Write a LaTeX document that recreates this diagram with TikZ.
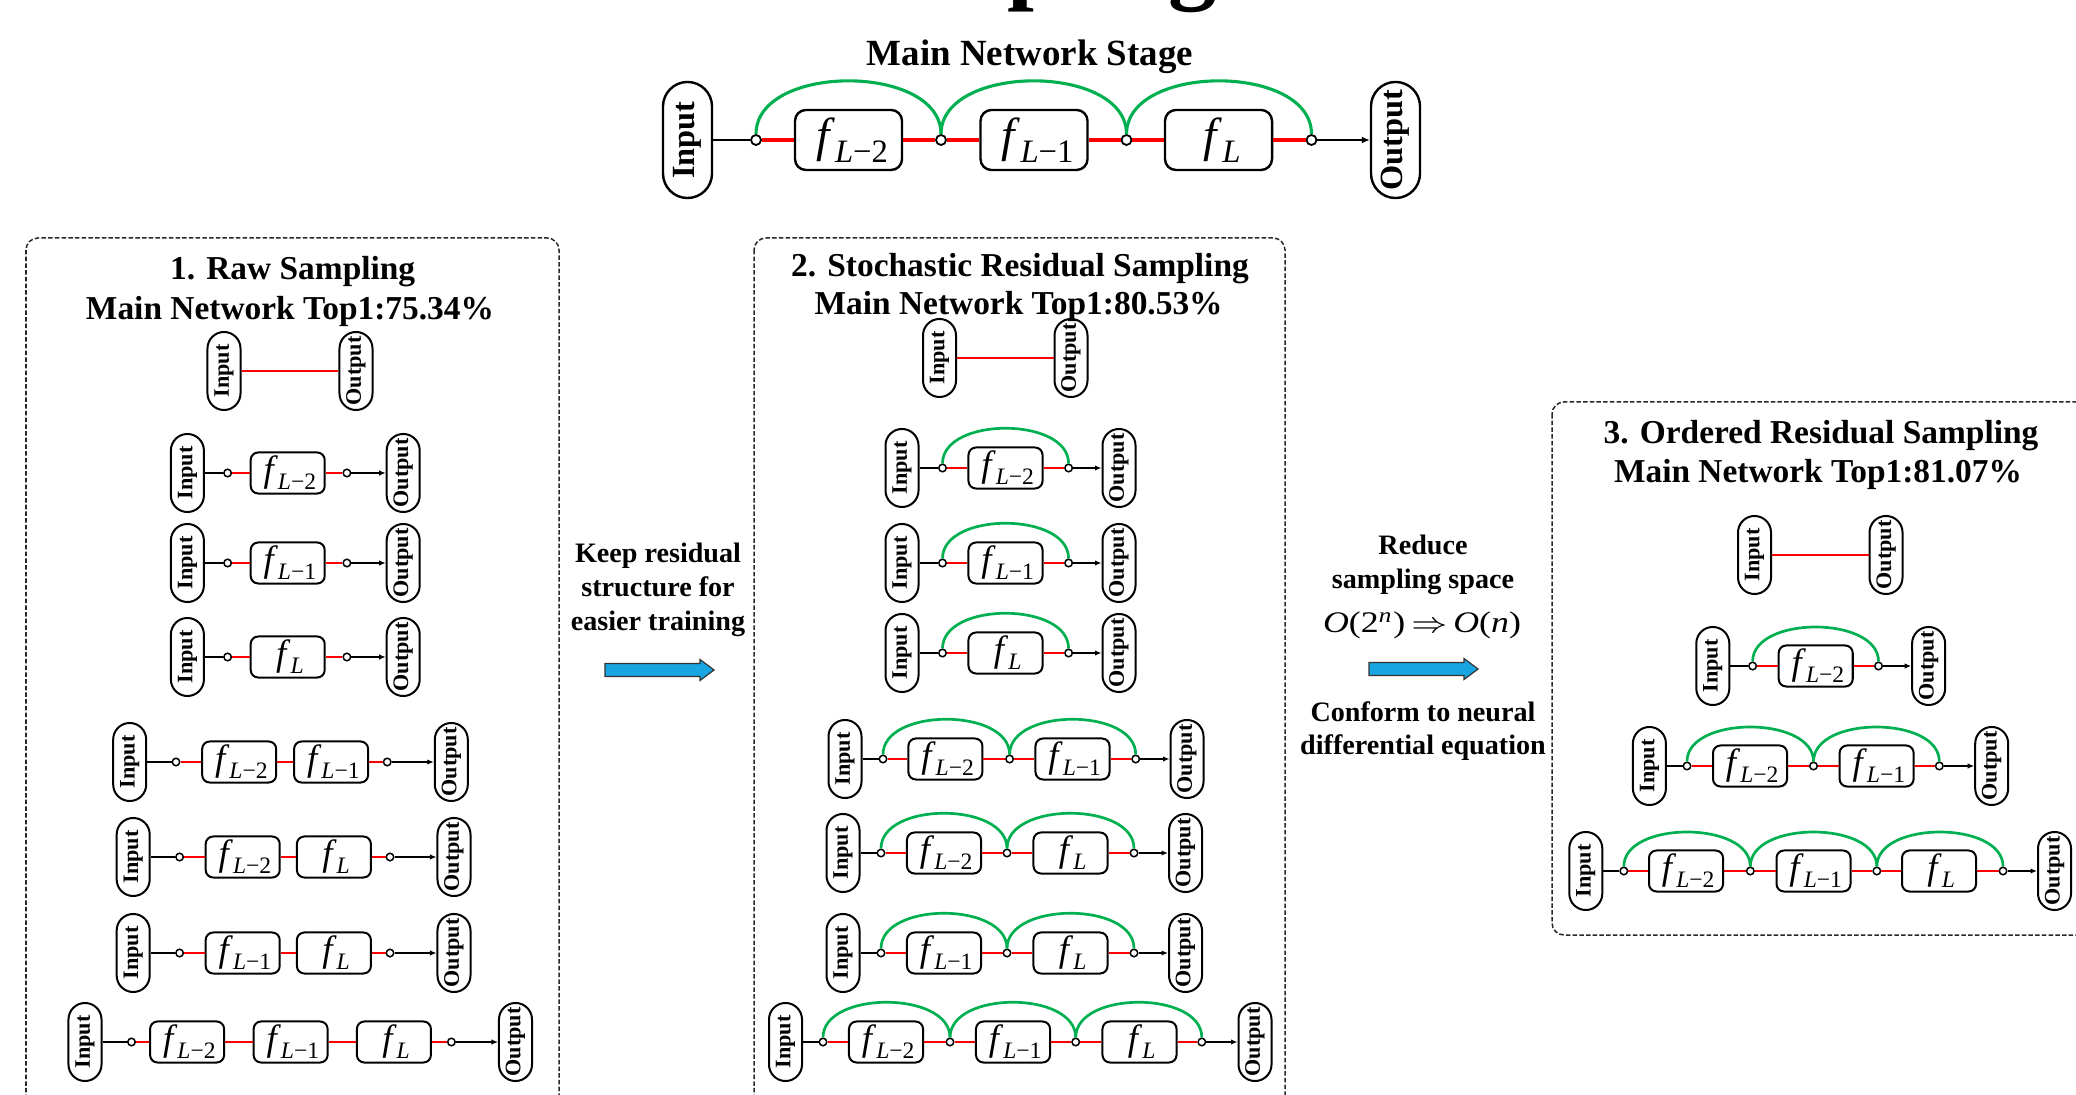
\documentclass[tikz,border=0pt]{standalone}
\usepackage{fontspec}
\usepackage{graphicx}
\setmainfont{Liberation Serif}
\usetikzlibrary{arrows.meta}

\definecolor{resred}{RGB}{255,0,0}
\definecolor{resgreen}{RGB}{0,176,80}
\definecolor{flowblue}{RGB}{24,165,225}
\definecolor{framegray}{RGB}{40,40,40}

% block labels f_{L-k}, small and large
\newcommand\fsmall[1]{\kern0.12em\textit{f}\raisebox{-0.22em}{\fontsize{6.7}{6.7}\selectfont\textit{L}#1}}
\newcommand\fbig[1]{\kern0.15em\textit{f}\raisebox{-0.22em}{\fontsize{9.3}{9.3}\selectfont\textit{L}#1}}
\newcommand\vtext[1]{\rotatebox{90}{#1}}

\begin{document}
\begin{tikzpicture}[x=0.01cm, y=-0.01cm,
  pill/.style={draw, line width=0.02cm, rounded corners=0.165cm,
    minimum width=0.33cm, minimum height=0.78cm, inner sep=0pt,
    font=\fontsize{6.3}{6.3}\selectfont\bfseries},
  bigpill/.style={pill, line width=0.024cm, rounded corners=0.245cm,
    minimum width=0.49cm, minimum height=1.16cm,
    font=\fontsize{9.2}{9.2}\selectfont\bfseries},
  fbox/.style={draw, line width=0.02cm, rounded corners=0.075cm,
    minimum width=0.74cm, minimum height=0.41cm, inner sep=0pt,
    font=\fontsize{10.4}{10.4}\selectfont},
  bigfbox/.style={fbox, line width=0.024cm, rounded corners=0.11cm,
    minimum width=1.07cm, minimum height=0.60cm,
    font=\fontsize{13.6}{13.6}\selectfont},
  dot/.style={circle, draw, fill=white, line width=0.015cm,
    minimum size=0.075cm, inner sep=0pt},
  bigdot/.style={dot, line width=0.018cm, minimum size=0.10cm},
  blk/.style={draw=black, line width=0.02cm},
  blkarr/.style={blk, -{Latex[length=0.065cm,width=0.055cm]}},
  rd/.style={draw=resred, line width=0.027cm},
  grn/.style={draw=resgreen, line width=0.027cm},
  bigblk/.style={draw=black, line width=0.025cm},
  bigblkarr/.style={bigblk, -{Latex[length=0.08cm,width=0.07cm]}},
  bigrd/.style={draw=resred, line width=0.035cm},
  biggrn/.style={draw=resgreen, line width=0.031cm},
  frame/.style={draw=framegray, line width=0.015cm,
    dash pattern=on 0.045cm off 0.022cm, rounded corners=0.12cm},
  ptitle/.style={inner sep=0pt, font=\fontsize{9.5}{9.5}\selectfont\bfseries},
  stitle/.style={inner sep=0pt, font=\fontsize{10.5}{10.5}\selectfont\bfseries},
  mid/.style={inner sep=0pt, align=center, font=\fontsize{8}{9.6}\selectfont\bfseries},
  blockarrow/.style={fill=flowblue, draw=black!80, line width=0.012cm}
]
\useasboundingbox (0,0) rectangle (2076,1095);
\fill[white] (0,0) rectangle (2076,1095);
\begin{scope}
\clip (0,0) rectangle (2076,1095);

% heading running off the top edge
\node[anchor=base west, inner sep=0pt, font=\fontsize{27.45}{28}\selectfont\bfseries]
  (bigTitle) at (824,-8) {Sampling};

% ---------------- main network stage ----------------
\node[stitle] (stageTitle) at (1030,57) {Main Network Stage};
\node[bigpill] (m-in) at (687.5,140) {\vtext{Input}};
\node[bigdot] (m-d1) at (756,140) {};
\node[bigfbox] (m-f1) at (848.5,140) {\fbig{−2}};
\node[bigdot] (m-d2) at (941,140) {};
\node[bigfbox] (m-f2) at (1034,140) {\fbig{−1}};
\node[bigdot] (m-d3) at (1126.5,140) {};
\node[bigfbox] (m-f3) at (1218.5,140) {\fbig{}};
\node[bigdot] (m-d4) at (1311.5,140) {};
\node[bigpill] (m-out) at (1395.5,140) {\vtext{Output}};
\draw[bigblk] (m-in) -- (m-d1);
\draw[bigrd] (m-d1) -- (m-f1) -- (m-d2) -- (m-f2) -- (m-d3) -- (m-f3) -- (m-d4);
\draw[bigblkarr] (m-d4) -- (m-out);
\draw[biggrn] (m-d1.north) .. controls +(0,-71) and +(0,-71) .. (m-d2.north);
\draw[biggrn] (m-d2.north) .. controls +(0,-71) and +(0,-71) .. (m-d3.north);
\draw[biggrn] (m-d3.north) .. controls +(0,-71) and +(0,-71) .. (m-d4.north);

% ---------------- panel 1: raw sampling ----------------
\draw[frame] (26,238) rectangle (559,1130);
\node[ptitle] (t1a) at (292.7,272) {1. Raw Sampling};
\node[ptitle] (t1b) at (290,311) {Main Network Top1:75.34\%};

\node[pill] (r1a-in) at (224,371) {\vtext{Input}};
\node[pill] (r1a-out) at (356,371) {\vtext{Output}};
\draw[rd] (r1a-in) -- (r1a-out);

\node[pill] (r1b-in) at (187.4,473) {\vtext{Input}};
\node[dot] (r1b-d1) at (227.6,473) {};
\node[fbox] (r1b-f1) at (287.7,473) {\fsmall{−2}};
\node[dot] (r1b-d2) at (346.9,473) {};
\node[pill] (r1b-out) at (403.2,473) {\vtext{Output}};
\draw[blk] (r1b-in) -- (r1b-d1);
\draw[rd] (r1b-d1) -- (r1b-f1) -- (r1b-d2);
\draw[blkarr] (r1b-d2) -- (r1b-out);

\node[pill] (r1c-in) at (187.4,563) {\vtext{Input}};
\node[dot] (r1c-d1) at (227.6,563) {};
\node[fbox] (r1c-f1) at (287.7,563) {\fsmall{−1}};
\node[dot] (r1c-d2) at (346.9,563) {};
\node[pill] (r1c-out) at (403.2,563) {\vtext{Output}};
\draw[blk] (r1c-in) -- (r1c-d1);
\draw[rd] (r1c-d1) -- (r1c-f1) -- (r1c-d2);
\draw[blkarr] (r1c-d2) -- (r1c-out);

\node[pill] (r1d-in) at (187.4,657) {\vtext{Input}};
\node[dot] (r1d-d1) at (227.6,657) {};
\node[fbox] (r1d-f1) at (287.7,657) {\fsmall{}};
\node[dot] (r1d-d2) at (346.9,657) {};
\node[pill] (r1d-out) at (403.2,657) {\vtext{Output}};
\draw[blk] (r1d-in) -- (r1d-d1);
\draw[rd] (r1d-d1) -- (r1d-f1) -- (r1d-d2);
\draw[blkarr] (r1d-d2) -- (r1d-out);

\node[pill] (r1e-in) at (129.7,762) {\vtext{Input}};
\node[dot] (r1e-d1) at (176,762) {};
\node[fbox] (r1e-f1) at (239.2,762) {\fsmall{−2}};
\node[fbox] (r1e-f2) at (331.1,762) {\fsmall{−1}};
\node[dot] (r1e-d2) at (387.2,762) {};
\node[pill] (r1e-out) at (451.3,762) {\vtext{Output}};
\draw[blk] (r1e-in) -- (r1e-d1);
\draw[rd] (r1e-d1) -- (r1e-f1) -- (r1e-f2) -- (r1e-d2);
\draw[blkarr] (r1e-d2) -- (r1e-out);

\node[pill] (r1f-in) at (133.2,857) {\vtext{Input}};
\node[dot] (r1f-d1) at (179.6,857) {};
\node[fbox] (r1f-f1) at (242.7,857) {\fsmall{−2}};
\node[fbox] (r1f-f2) at (333.9,857) {\fsmall{}};
\node[dot] (r1f-d2) at (390,857) {};
\node[pill] (r1f-out) at (454,857) {\vtext{Output}};
\draw[blk] (r1f-in) -- (r1f-d1);
\draw[rd] (r1f-d1) -- (r1f-f1) -- (r1f-f2) -- (r1f-d2);
\draw[blkarr] (r1f-d2) -- (r1f-out);

\node[pill] (r1g-in) at (133.2,953) {\vtext{Input}};
\node[dot] (r1g-d1) at (179.6,953) {};
\node[fbox] (r1g-f1) at (242.7,953) {\fsmall{−1}};
\node[fbox] (r1g-f2) at (333.9,953) {\fsmall{}};
\node[dot] (r1g-d2) at (390,953) {};
\node[pill] (r1g-out) at (454,953) {\vtext{Output}};
\draw[blk] (r1g-in) -- (r1g-d1);
\draw[rd] (r1g-d1) -- (r1g-f1) -- (r1g-f2) -- (r1g-d2);
\draw[blkarr] (r1g-d2) -- (r1g-out);

\node[pill] (r1h-in) at (85,1042) {\vtext{Input}};
\node[dot] (r1h-d1) at (131.5,1042) {};
\node[fbox] (r1h-f1) at (187.1,1042) {\fsmall{−2}};
\node[fbox] (r1h-f2) at (290.6,1042) {\fsmall{−1}};
\node[fbox] (r1h-f3) at (393.9,1042) {\fsmall{}};
\node[dot] (r1h-d2) at (451.4,1042) {};
\node[pill] (r1h-out) at (515.5,1042) {\vtext{Output}};
\draw[blk] (r1h-in) -- (r1h-d1);
\draw[rd] (r1h-d1) -- (r1h-f1) -- (r1h-f2) -- (r1h-f3) -- (r1h-d2);
\draw[blkarr] (r1h-d2) -- (r1h-out);

% ---------------- transition 1 ----------------
\node[mid] (keepTxt) at (658,590) {Keep residual\\structure for\\easier training};
\coordinate (arr1) at (605,670);
\filldraw[blockarrow] (arr1) ++(0,-6.5) -- ++(95,0) -- ++(0,-4) -- ++(14,10.5)
  -- ++(-14,10.5) -- ++(0,-4) -- ++(-95,0) -- cycle;

% ---------------- panel 2: stochastic residual sampling ----------------
\draw[frame] (754,238) rectangle (1285,1130);
\node[ptitle] (t2a) at (1020,268.5) {2. Stochastic Residual Sampling};
\node[ptitle] (t2b) at (1018.6,306.5) {Main Network Top1:80.53\%};

\node[pill] (r2a-in) at (939.5,358) {\vtext{Input}};
\node[pill] (r2a-out) at (1071,358) {\vtext{Output}};
\draw[rd] (r2a-in) -- (r2a-out);

\node[pill] (r2b-in) at (902,468) {\vtext{Input}};
\node[dot] (r2b-d1) at (942.5,468) {};
\node[fbox] (r2b-f1) at (1005.5,468) {\fsmall{−2}};
\node[dot] (r2b-d2) at (1068.6,468) {};
\node[pill] (r2b-out) at (1119,468) {\vtext{Output}};
\draw[blk] (r2b-in) -- (r2b-d1);
\draw[rd] (r2b-d1) -- (r2b-f1) -- (r2b-d2);
\draw[blkarr] (r2b-d2) -- (r2b-out);
\draw[grn] (r2b-d1.north) .. controls +(0,-47) and +(0,-47) .. (r2b-d2.north);

\node[pill] (r2c-in) at (902,563) {\vtext{Input}};
\node[dot] (r2c-d1) at (942.5,563) {};
\node[fbox] (r2c-f1) at (1005.5,563) {\fsmall{−1}};
\node[dot] (r2c-d2) at (1068.6,563) {};
\node[pill] (r2c-out) at (1119,563) {\vtext{Output}};
\draw[blk] (r2c-in) -- (r2c-d1);
\draw[rd] (r2c-d1) -- (r2c-f1) -- (r2c-d2);
\draw[blkarr] (r2c-d2) -- (r2c-out);
\draw[grn] (r2c-d1.north) .. controls +(0,-47) and +(0,-47) .. (r2c-d2.north);

\node[pill] (r2d-in) at (902,653) {\vtext{Input}};
\node[dot] (r2d-d1) at (942.5,653) {};
\node[fbox] (r2d-f1) at (1005.5,653) {\fsmall{}};
\node[dot] (r2d-d2) at (1068.6,653) {};
\node[pill] (r2d-out) at (1119,653) {\vtext{Output}};
\draw[blk] (r2d-in) -- (r2d-d1);
\draw[rd] (r2d-d1) -- (r2d-f1) -- (r2d-d2);
\draw[blkarr] (r2d-d2) -- (r2d-out);
\draw[grn] (r2d-d1.north) .. controls +(0,-47) and +(0,-47) .. (r2d-d2.north);

\node[pill] (r2e-in) at (845,759) {\vtext{Input}};
\node[dot] (r2e-d1) at (883,759) {};
\node[fbox] (r2e-f1) at (945.4,759) {\fsmall{−2}};
\node[dot] (r2e-d2) at (1009.6,759) {};
\node[fbox] (r2e-f2) at (1072.5,759) {\fsmall{−1}};
\node[dot] (r2e-d3) at (1135.7,759) {};
\node[pill] (r2e-out) at (1187,759) {\vtext{Output}};
\draw[blk] (r2e-in) -- (r2e-d1);
\draw[rd] (r2e-d1) -- (r2e-f1) -- (r2e-d2) -- (r2e-f2) -- (r2e-d3);
\draw[blkarr] (r2e-d3) -- (r2e-out);
\draw[grn] (r2e-d1.north) .. controls +(0,-47) and +(0,-47) .. (r2e-d2.north);
\draw[grn] (r2e-d2.north) .. controls +(0,-47) and +(0,-47) .. (r2e-d3.north);

\node[pill] (r2f-in) at (843,853) {\vtext{Input}};
\node[dot] (r2f-d1) at (881,853) {};
\node[fbox] (r2f-f1) at (944,853) {\fsmall{−2}};
\node[dot] (r2f-d2) at (1007,853) {};
\node[fbox] (r2f-f2) at (1070.5,853) {\fsmall{}};
\node[dot] (r2f-d3) at (1134,853) {};
\node[pill] (r2f-out) at (1185.5,853) {\vtext{Output}};
\draw[blk] (r2f-in) -- (r2f-d1);
\draw[rd] (r2f-d1) -- (r2f-f1) -- (r2f-d2) -- (r2f-f2) -- (r2f-d3);
\draw[blkarr] (r2f-d3) -- (r2f-out);
\draw[grn] (r2f-d1.north) .. controls +(0,-47) and +(0,-47) .. (r2f-d2.north);
\draw[grn] (r2f-d2.north) .. controls +(0,-47) and +(0,-47) .. (r2f-d3.north);

\node[pill] (r2g-in) at (843,953) {\vtext{Input}};
\node[dot] (r2g-d1) at (881,953) {};
\node[fbox] (r2g-f1) at (944,953) {\fsmall{−1}};
\node[dot] (r2g-d2) at (1007,953) {};
\node[fbox] (r2g-f2) at (1070.5,953) {\fsmall{}};
\node[dot] (r2g-d3) at (1134,953) {};
\node[pill] (r2g-out) at (1185.5,953) {\vtext{Output}};
\draw[blk] (r2g-in) -- (r2g-d1);
\draw[rd] (r2g-d1) -- (r2g-f1) -- (r2g-d2) -- (r2g-f2) -- (r2g-d3);
\draw[blkarr] (r2g-d3) -- (r2g-out);
\draw[grn] (r2g-d1.north) .. controls +(0,-47) and +(0,-47) .. (r2g-d2.north);
\draw[grn] (r2g-d2.north) .. controls +(0,-47) and +(0,-47) .. (r2g-d3.north);

\node[pill] (r2h-in) at (785.5,1042) {\vtext{Input}};
\node[dot] (r2h-d1) at (823,1042) {};
\node[fbox] (r2h-f1) at (886,1042) {\fsmall{−2}};
\node[dot] (r2h-d2) at (950,1042) {};
\node[fbox] (r2h-f2) at (1013,1042) {\fsmall{−1}};
\node[dot] (r2h-d3) at (1075.7,1042) {};
\node[fbox] (r2h-f3) at (1139.5,1042) {\fsmall{}};
\node[dot] (r2h-d4) at (1201.8,1042) {};
\node[pill] (r2h-out) at (1255,1042) {\vtext{Output}};
\draw[blk] (r2h-in) -- (r2h-d1);
\draw[rd] (r2h-d1) -- (r2h-f1) -- (r2h-d2) -- (r2h-f2) -- (r2h-d3) -- (r2h-f3) -- (r2h-d4);
\draw[blkarr] (r2h-d4) -- (r2h-out);
\draw[grn] (r2h-d1.north) .. controls +(0,-47) and +(0,-47) .. (r2h-d2.north);
\draw[grn] (r2h-d2.north) .. controls +(0,-47) and +(0,-47) .. (r2h-d3.north);
\draw[grn] (r2h-d3.north) .. controls +(0,-47) and +(0,-47) .. (r2h-d4.north);

% ---------------- transition 2 ----------------
\node[mid] (reduceTxt) at (1423,565) {Reduce\\sampling space};
\node[font=\fontsize{8.5}{9}\selectfont, inner sep=0pt] (cplx) at (1422,625)
  {\scalebox{1.2}[1]{\textit{O}(2\textsuperscript{\textit{n}})\,$\Rightarrow$\,\textit{O}(\textit{n})}};
\coordinate (arr2) at (1369,669);
\filldraw[blockarrow] (arr2) ++(0,-6.5) -- ++(95,0) -- ++(0,-4) -- ++(14,10.5)
  -- ++(-14,10.5) -- ++(0,-4) -- ++(-95,0) -- cycle;
\node[mid] (conformTxt) at (1423,731) {Conform to neural\\differential equation};

% ---------------- panel 3: ordered residual sampling ----------------
\draw[frame] (1552,402) rectangle (2130,935);
\node[ptitle] (t3a) at (1821,436) {3. Ordered Residual Sampling};
\node[ptitle] (t3b) at (1818,474) {Main Network Top1:81.07\%};

\node[pill] (r3a-in) at (1754.5,555) {\vtext{Input}};
\node[pill] (r3a-out) at (1886,555) {\vtext{Output}};
\draw[rd] (r3a-in) -- (r3a-out);

\node[pill] (r3b-in) at (1712.8,666) {\vtext{Input}};
\node[dot] (r3b-d1) at (1752.6,666) {};
\node[fbox] (r3b-f1) at (1815.7,666) {\fsmall{−2}};
\node[dot] (r3b-d2) at (1878.5,666) {};
\node[pill] (r3b-out) at (1928.6,666) {\vtext{Output}};
\draw[blk] (r3b-in) -- (r3b-d1);
\draw[rd] (r3b-d1) -- (r3b-f1) -- (r3b-d2);
\draw[blkarr] (r3b-d2) -- (r3b-out);
\draw[grn] (r3b-d1.north) .. controls +(0,-46) and +(0,-46) .. (r3b-d2.north);

\node[pill] (r3c-in) at (1649.4,766) {\vtext{Input}};
\node[dot] (r3c-d1) at (1687,766) {};
\node[fbox] (r3c-f1) at (1750,766) {\fsmall{−2}};
\node[dot] (r3c-d2) at (1813.5,766) {};
\node[fbox] (r3c-f2) at (1876.6,766) {\fsmall{−1}};
\node[dot] (r3c-d3) at (1939.3,766) {};
\node[pill] (r3c-out) at (1991.7,766) {\vtext{Output}};
\draw[blk] (r3c-in) -- (r3c-d1);
\draw[rd] (r3c-d1) -- (r3c-f1) -- (r3c-d2) -- (r3c-f2) -- (r3c-d3);
\draw[blkarr] (r3c-d3) -- (r3c-out);
\draw[grn] (r3c-d1.north) .. controls +(0,-46) and +(0,-46) .. (r3c-d2.north);
\draw[grn] (r3c-d2.north) .. controls +(0,-46) and +(0,-46) .. (r3c-d3.north);

\node[pill] (r3d-in) at (1585.8,871) {\vtext{Input}};
\node[dot] (r3d-d1) at (1623.8,871) {};
\node[fbox] (r3d-f1) at (1686,871) {\fsmall{−2}};
\node[dot] (r3d-d2) at (1750.3,871) {};
\node[fbox] (r3d-f2) at (1813.5,871) {\fsmall{−1}};
\node[dot] (r3d-d3) at (1876.8,871) {};
\node[fbox] (r3d-f3) at (1939,871) {\fsmall{}};
\node[dot] (r3d-d4) at (2003,871) {};
\node[pill] (r3d-out) at (2054.5,871) {\vtext{Output}};
\draw[blk] (r3d-in) -- (r3d-d1);
\draw[rd] (r3d-d1) -- (r3d-f1) -- (r3d-d2) -- (r3d-f2) -- (r3d-d3) -- (r3d-f3) -- (r3d-d4);
\draw[blkarr] (r3d-d4) -- (r3d-out);
\draw[grn] (r3d-d1.north) .. controls +(0,-46) and +(0,-46) .. (r3d-d2.north);
\draw[grn] (r3d-d2.north) .. controls +(0,-46) and +(0,-46) .. (r3d-d3.north);
\draw[grn] (r3d-d3.north) .. controls +(0,-46) and +(0,-46) .. (r3d-d4.north);

\end{scope}
\end{tikzpicture}
\end{document}
